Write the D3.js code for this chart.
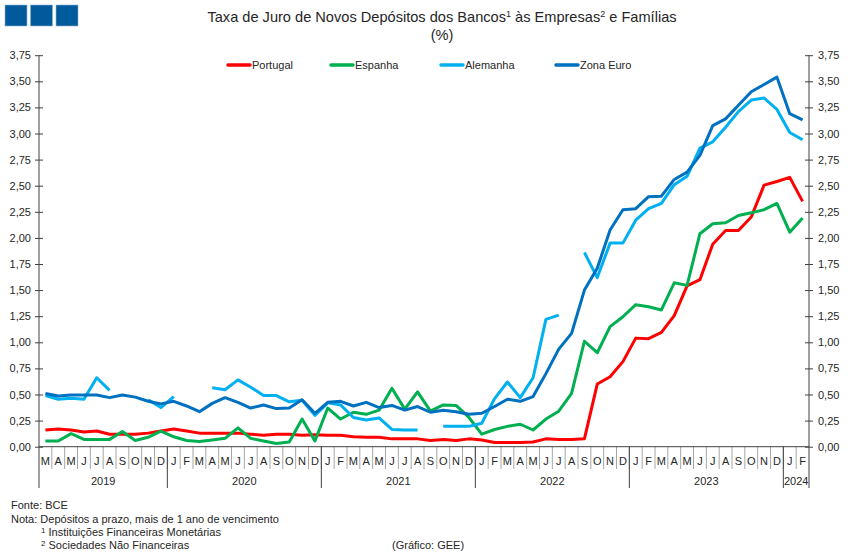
<!DOCTYPE html>
<html>
<head>
<meta charset="utf-8">
<script src="https://cdn.jsdelivr.net/npm/d3@7"></script>
<style>
  body { margin: 0; background: #fff; }
  svg { display: block; font-family: Arial, "Liberation Sans", sans-serif; }
  .lbl { fill: #262626; font-size: 11px; }
</style>
</head>
<body>
<div id="chart"></div>
<script>
// Monthly data, Mar 2019 .. Feb 2024
const monthLetters = ["M","A","M","J","J","A","S","O","N","D",
  "J","F","M","A","M","J","J","A","S","O","N","D",
  "J","F","M","A","M","J","J","A","S","O","N","D",
  "J","F","M","A","M","J","J","A","S","O","N","D",
  "J","F","M","A","M","J","J","A","S","O","N","D",
  "J","F"];

const years = [
  { label: "2019", from: 0, to: 9 },
  { label: "2020", from: 10, to: 21 },
  { label: "2021", from: 22, to: 33 },
  { label: "2022", from: 34, to: 45 },
  { label: "2023", from: 46, to: 57 },
  { label: "2024", from: 58, to: 59 },
];

const portugal = [0.16,0.17,0.16,0.14,0.15,0.12,0.12,0.12,0.13,0.15,
  0.17,0.15,0.13,0.13,0.13,0.13,0.12,0.11,0.12,0.12,0.11,0.115,
  0.11,0.11,0.095,0.09,0.09,0.075,0.075,0.075,0.06,0.07,0.06,0.075,
  0.065,0.04,0.04,0.04,0.045,0.075,0.07,0.07,0.075,0.60,0.67,0.815,
  1.04,1.035,1.095,1.255,1.54,1.60,1.94,2.07,2.07,2.20,2.505,2.54,
  2.58,2.35];

const espanha = [0.055,0.055,0.125,0.07,0.07,0.07,0.145,0.06,0.09,0.15,
  0.095,0.06,0.05,0.065,0.08,0.18,0.08,0.055,0.03,0.045,0.265,0.055,
  0.37,0.265,0.33,0.31,0.35,0.56,0.36,0.525,0.34,0.40,0.395,0.28,
  0.12,0.165,0.195,0.215,0.16,0.265,0.34,0.51,1.01,0.90,1.15,1.245,
  1.36,1.34,1.31,1.57,1.545,2.04,2.135,2.145,2.215,2.24,2.27,2.33,
  2.055,2.19];

const alemanha = [0.49,0.455,0.465,0.455,0.66,0.54,null,null,0.45,0.375,
  0.48,null,null,0.565,0.545,0.64,0.57,0.49,0.49,0.43,0.445,0.30,
  0.42,0.40,0.28,0.255,0.275,0.165,0.16,0.16,null,0.195,0.195,0.195,
  0.225,0.46,0.62,0.47,0.66,1.22,1.26,null,1.86,1.62,1.95,1.95,
  2.17,2.28,2.33,2.51,2.59,2.86,2.92,3.06,3.21,3.32,3.34,3.23,
  3.01,2.94];

const zonaEuro = [0.51,0.485,0.495,0.495,0.495,0.47,0.495,0.475,0.435,0.41,
  0.435,0.39,0.335,0.415,0.47,0.425,0.37,0.40,0.365,0.37,0.45,0.32,
  0.425,0.435,0.39,0.425,0.375,0.395,0.35,0.385,0.33,0.35,0.335,0.31,
  0.32,0.385,0.455,0.435,0.48,0.70,0.935,1.086,1.50,1.71,2.075,2.27,
  2.28,2.395,2.40,2.56,2.63,2.79,3.076,3.14,3.27,3.40,3.47,3.54,
  3.19,3.13];

const series = [
  { name: "Portugal", values: portugal, color: "#ff0000", lx: 228 },
  { name: "Espanha", values: espanha, color: "#00b050", lx: 331 },
  { name: "Alemanha", values: alemanha, color: "#00b0f0", lx: 441 },
  { name: "Zona Euro", values: zonaEuro, color: "#0070c0", lx: 556 },
];

const yTicks = d3.range(0, 3.76, 0.25);

const W = 850, H = 559;
const plotLeft = 39, plotRight = 809, plotTop = 55.2, plotBottom = 446.7;

const svg = d3.select("#chart").append("svg")
  .attr("width", W).attr("height", H);

const x = d3.scaleBand().domain(d3.range(monthLetters.length)).range([plotLeft, plotRight]);
const y = d3.scaleLinear().domain([0, 3.75]).range([plotBottom, plotTop]);
const fmt = (d) => d3.format(".2f")(d).replace(".", ",");

// logo
svg.selectAll("rect.logo").data([0, 1, 2]).join("rect")
  .attr("class", "logo")
  .attr("x", (d) => 5 + d * 25.5).attr("y", 5)
  .attr("width", 22).attr("height", 21)
  .attr("fill", "#005a9c").attr("stroke", "#8fb3d0").attr("stroke-width", 0.6);

// title
const title = svg.append("text").attr("x", 442).attr("y", 22)
  .attr("text-anchor", "middle").attr("font-size", 14.6).attr("fill", "#262626");
title.append("tspan").text("Taxa de Juro de Novos Depósitos dos Bancos");
title.append("tspan").attr("font-size", 9).attr("dy", -5).text("1");
title.append("tspan").attr("dy", 5).text(" às Empresas");
title.append("tspan").attr("font-size", 9).attr("dy", -5).text("2");
title.append("tspan").attr("dy", 5).text(" e Famílias");
svg.append("text").attr("x", 442).attr("y", 40)
  .attr("text-anchor", "middle").attr("font-size", 14.6).attr("fill", "#262626")
  .text("(%)");

// y axes
const axisColor = "#404040";
function yAxis(g, orient) {
  const ax = orient === "left" ? d3.axisLeft(y) : d3.axisRight(y);
  g.call(ax.tickValues(yTicks).tickFormat(fmt).tickSize(4).tickPadding(5));
  g.select(".domain").remove();
  g.selectAll(".tick line").attr("x1", -4).attr("x2", 4).attr("stroke", axisColor);
  g.selectAll(".tick text").attr("class", "lbl").attr("font-size", 11)
    .attr("x", orient === "left" ? -8 : 9);
}
svg.append("g").attr("transform", `translate(${plotLeft},0)`).call(yAxis, "left");
svg.append("g").attr("transform", `translate(${plotRight},0)`).call(yAxis, "right");

svg.append("line").attr("x1", plotLeft).attr("x2", plotLeft).attr("y1", plotTop).attr("y2", 488)
  .attr("stroke", axisColor);
svg.append("line").attr("x1", plotRight).attr("x2", plotRight).attr("y1", plotTop).attr("y2", 488)
  .attr("stroke", axisColor);

// x axis: month separators, letters, year blocks
svg.selectAll("line.msep").data(d3.range(1, monthLetters.length)).join("line")
  .attr("class", "msep")
  .attr("x1", (d) => x(d)).attr("x2", (d) => x(d))
  .attr("y1", plotBottom).attr("y2", 469)
  .attr("stroke", "#a6a6a6");

svg.selectAll("line.ysep").data(years.slice(1)).join("line")
  .attr("class", "ysep")
  .attr("x1", (d) => x(d.from)).attr("x2", (d) => x(d.from))
  .attr("y1", plotBottom).attr("y2", 488)
  .attr("stroke", axisColor);

svg.append("line").attr("x1", plotLeft).attr("x2", plotRight)
  .attr("y1", plotBottom).attr("y2", plotBottom)
  .attr("stroke", axisColor);

svg.selectAll("text.month").data(monthLetters).join("text")
  .attr("class", "lbl month")
  .attr("x", (d, i) => x(i) + x.bandwidth() / 2).attr("y", 465)
  .attr("text-anchor", "middle").text((d) => d);

svg.selectAll("text.year").data(years).join("text")
  .attr("class", "lbl year")
  .attr("x", (d) => (x(d.from) + x(d.to) + x.bandwidth()) / 2).attr("y", 485)
  .attr("text-anchor", "middle").text((d) => d.label);

// lines
const line = d3.line()
  .defined((d) => d != null)
  .x((d, i) => x(i) + x.bandwidth() / 2)
  .y((d) => y(d));

svg.selectAll("path.series").data(series).join("path")
  .attr("class", "series")
  .attr("fill", "none")
  .attr("stroke", (d) => d.color)
  .attr("stroke-width", 3)
  .attr("stroke-linejoin", "round")
  .attr("d", (d) => line(d.values));

// legend
const leg = svg.selectAll("g.leg").data(series).join("g")
  .attr("class", "leg").attr("transform", (d) => `translate(${d.lx},65)`);
leg.append("line").attr("x1", 0).attr("x2", 22).attr("stroke", (d) => d.color)
  .attr("stroke-width", 3.5).attr("stroke-linecap", "round");
leg.append("text").attr("class", "lbl").attr("x", 24).attr("y", 4).text((d) => d.name);

// footnotes
const notes = svg.append("g");
notes.append("text").attr("class", "lbl").attr("x", 11).attr("y", 509).text("Fonte: BCE");
notes.append("text").attr("class", "lbl").attr("x", 11).attr("y", 523)
  .text("Nota:  Depósitos a prazo, mais de 1 ano de vencimento");
const n1 = notes.append("text").attr("class", "lbl").attr("x", 41).attr("y", 536);
n1.append("tspan").attr("font-size", 8).attr("dy", -3).text("1");
n1.append("tspan").attr("dy", 3).text(" Instituições Financeiras Monetárias");
const n2 = notes.append("text").attr("class", "lbl").attr("x", 41).attr("y", 549);
n2.append("tspan").attr("font-size", 8).attr("dy", -3).text("2");
n2.append("tspan").attr("dy", 3).text(" Sociedades Não Financeiras");
notes.append("text").attr("class", "lbl").attr("x", 392).attr("y", 549).text("(Gráfico: GEE)");
</script>
</body>
</html>
